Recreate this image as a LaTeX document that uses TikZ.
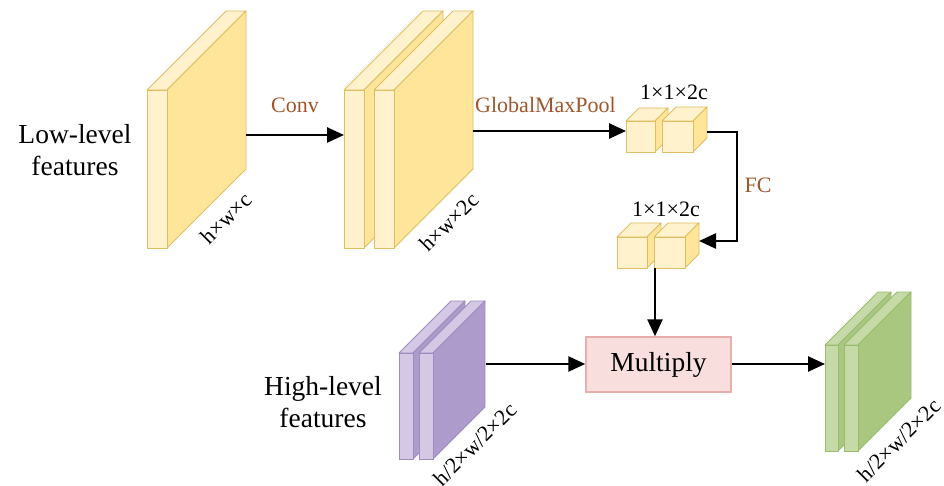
\documentclass[tikz,border=0pt]{standalone}
\usepackage{fontspec}
\setmainfont{Liberation Serif}
\newfontfamily\tnr{Liberation Serif}
\usetikzlibrary{arrows.meta}
\definecolor{yfront}{HTML}{FFF2CC}
\definecolor{yside}{HTML}{FFE599}
\definecolor{ydraw}{HTML}{DDBE62}
\definecolor{pfront}{HTML}{D4C8E4}
\definecolor{pside}{HTML}{AC9BCB}
\definecolor{pdraw}{HTML}{9E8BBF}
\definecolor{gfront}{HTML}{C6DAA8}
\definecolor{gside}{HTML}{A9C77F}
\definecolor{gdraw}{HTML}{9BBB6E}
\definecolor{mfill}{HTML}{F8DEDC}
\definecolor{mdraw}{HTML}{E6AEAC}
\definecolor{lblbrown}{HTML}{A0562A}
% #1 x1, #2 x2, #3 ytop, #4 ybot, #5 depth, #6 front, #7 side, #8 border
\newcommand\myslab[8]{%
  \filldraw[draw=#8, fill=#6, line width=0.9pt, line join=round]
    (#1,#3) -- (#1+#5,#3-#5) -- (#2+#5,#3-#5) -- (#2,#3) -- cycle;
  \filldraw[draw=#8, fill=#7, line width=0.9pt, line join=round]
    (#2,#3) -- (#2+#5,#3-#5) -- (#2+#5,#4-#5) -- (#2,#4) -- cycle;
  \filldraw[draw=#8, fill=#6, line width=0.9pt, line join=round]
    (#1,#3) rectangle (#2,#4);
}
\begin{document}
\begin{tikzpicture}[x=1pt,y=-1pt,
  arr/.style={line width=2.6pt, -{Triangle[length=17pt,width=15pt]}},
  small/.style={font=\tnr\fontsize{22}{26}\selectfont, inner sep=0pt},
  brown/.style={small, text=lblbrown},
  big/.style={font=\tnr\fontsize{27.5}{32}\selectfont, align=center, inner sep=0pt},
  mulbox/.style={draw=mdraw, fill=mfill, line width=1.5pt, minimum width=145pt, minimum height=55pt, font=\tnr\fontsize{27.5}{32}\selectfont, inner sep=0pt}]
\useasboundingbox (0,0) rectangle (944,486);
\fill[white] (0,0) rectangle (944,486);

% low-level slab
\myslab{147}{167}{90}{248}{79}{yfront}{yside}{ydraw}
% conv output pair
\myslab{344}{364}{90}{248}{79}{yfront}{yside}{ydraw}
\myslab{374}{394}{90}{248}{79}{yfront}{yside}{ydraw}
% top cubes
\myslab{626}{655}{121}{152}{13}{yfront}{yside}{ydraw}
\myslab{662}{693}{121}{152}{14}{yfront}{yside}{ydraw}
% lower cubes
\myslab{617}{647}{237}{268}{14}{yfront}{yside}{ydraw}
\myslab{654}{685}{237}{268}{14}{yfront}{yside}{ydraw}
% purple
\myslab{399}{413}{353}{459}{52}{pfront}{pside}{pdraw}
\myslab{419}{433}{353}{459}{52}{pfront}{pside}{pdraw}
% green
\myslab{825}{838}{345}{451}{53}{gfront}{gside}{gdraw}
\myslab{844}{858}{345}{451}{53}{gfront}{gside}{gdraw}

% connection points
\coordinate (lowout) at (246,135);
\coordinate (convin) at (344,135);
\coordinate (convout) at (473,131);
\coordinate (gmpin) at (626,131);
\coordinate (gmpout) at (707,132);
\coordinate (fcin) at (699,241);
\coordinate (fcbend) at (737,132);
\coordinate (fcout) at (655,268);
\coordinate (highout) at (486,364);
\coordinate (greenin) at (825,364);

\node[mulbox] (mul) at (658.5,364.5) {Multiply};

% connectors
\draw[arr] (lowout) -- (convin);
\draw[arr] (convout) -- (gmpin);
\draw[arr] (gmpout) -- (fcbend) |- (fcin);
\draw[arr] (fcout) -- (fcout |- mul.north);
\draw[arr] (highout) -- (highout -| mul.west);
\draw[arr] (mul.east |- greenin) -- (greenin);

% labels
\node[brown, anchor=base] (lconv) at (295,113) {Conv};
\node[brown, anchor=base] (lgmp) at (545.5,113) {GlobalMaxPool};
\node[brown, anchor=base] (lfc) at (758,193) {FC};
\node[small, anchor=base] (ltop) at (674,100) {1×1×2c};
\node[small, anchor=base] (lbot) at (666,217) {1×1×2c};
\node[big] (llow) at (75,150) {Low-level\\features};
\node[big] (lhigh) at (323,402) {High-level\\features};
\node[small, rotate=45] (d1) at (226,218) {h×w×c};
\node[small, rotate=45] (d2) at (449,222) {h×w×2c};
\node[small, rotate=45] (d3) at (475,444) {h/2×w/2×2c};
\node[small, rotate=45] (d4) at (899,440) {h/2×w/2×2c};
\end{tikzpicture}
\end{document}
